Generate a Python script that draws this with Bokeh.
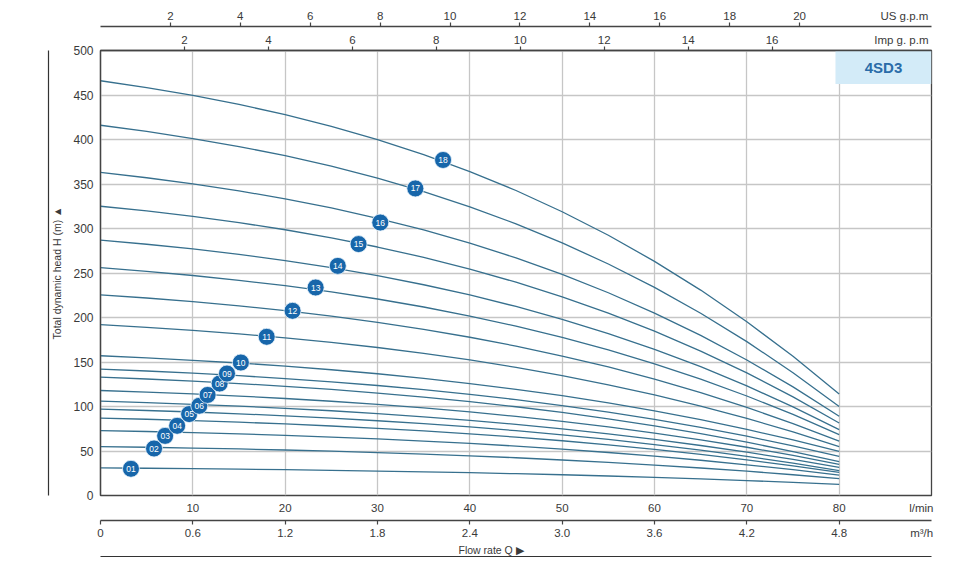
from bokeh.plotting import figure
from bokeh.models import Range1d, LinearAxis, FixedTicker, Title, ColumnDataSource, CustomJSTickFormatter
from bokeh.embed import file_html
from bokeh.resources import INLINE
from bokeh.core.properties import value

# ---------------- data ----------------
flow_lpm = [0, 5, 10, 15, 20, 25, 30, 35, 40, 45, 50, 55, 60, 65, 70, 75, 80]

head_01 = [31, 30.6, 30.1, 29.6, 29.0, 28.3, 27.5, 26.6, 25.6, 24.5, 23.3, 21.9, 20.3, 18.6, 16.8, 14.7, 12.5]
head_02 = [55, 54.2, 53.3, 52.3, 51.1, 49.8, 48.2, 46.5, 44.6, 42.4, 39.9, 37.2, 34.2, 30.9, 27.3, 23.3, 19]
head_03 = [73, 71.9, 70.7, 69.2, 67.6, 65.7, 63.6, 61.2, 58.5, 55.5, 52.1, 48.3, 44.2, 39.6, 34.5, 29.0, 23]
head_04 = [87, 85.7, 84.1, 82.4, 80.4, 78.1, 75.5, 72.6, 69.3, 65.6, 61.5, 56.9, 51.8, 46.2, 40.1, 33.3, 26]
head_05 = [97, 95.5, 93.8, 91.8, 89.5, 87.0, 84.0, 80.7, 77.0, 72.8, 68.2, 63.0, 57.2, 50.9, 43.9, 36.3, 28]
head_06 = [106, 104.4, 102.5, 100.4, 97.9, 95.2, 92.0, 88.4, 84.4, 79.9, 74.9, 69.2, 63.1, 56.2, 48.7, 40.5, 31.5]
head_07 = [118, 116.2, 114.1, 111.7, 109.0, 105.9, 102.4, 98.4, 93.9, 88.9, 83.3, 77.1, 70.2, 62.5, 54.2, 45.0, 35]
head_08 = [133, 130.9, 128.5, 125.8, 122.7, 119.2, 115.1, 110.6, 105.5, 99.7, 93.3, 86.1, 78.2, 69.5, 59.9, 49.4, 38]
head_09 = [142, 139.9, 137.4, 134.6, 131.4, 127.7, 123.6, 118.9, 113.6, 107.7, 101.0, 93.7, 85.5, 76.5, 66.6, 55.8, 44]
head_10 = [157, 154.6, 151.9, 148.9, 145.4, 141.3, 136.8, 131.6, 125.8, 119.3, 112.1, 104.0, 95.0, 85.2, 74.3, 62.4, 49.5]
head_11 = [192, 189.0, 185.6, 181.6, 177.2, 172.1, 166.3, 159.7, 152.3, 144.0, 134.7, 124.4, 113.0, 100.4, 86.6, 71.5, 55]
head_12 = [225.5, 221.9, 217.8, 213.1, 207.7, 201.5, 194.6, 186.7, 177.8, 167.9, 156.7, 144.4, 130.7, 115.6, 99.0, 80.8, 61]
head_13 = [256, 251.9, 247.2, 241.8, 235.7, 228.7, 220.8, 211.8, 201.6, 190.3, 177.6, 163.5, 147.9, 130.7, 111.8, 91.1, 68.5]
head_14 = [287, 282.3, 277.0, 270.9, 263.9, 256.0, 247.0, 236.8, 225.3, 212.4, 197.9, 181.9, 164.2, 144.7, 123.2, 99.6, 74]
head_15 = [325, 319.7, 313.6, 306.6, 298.6, 289.5, 279.2, 267.6, 254.4, 239.7, 223.2, 204.9, 184.6, 162.3, 137.7, 110.8, 81.5]
head_16 = [363, 357.0, 350.1, 342.3, 333.3, 323.1, 311.5, 298.4, 283.6, 267.0, 248.4, 227.8, 205.0, 179.9, 152.2, 122.0, 89]
head_17 = [416, 409.1, 401.1, 392.1, 381.8, 370.0, 356.6, 341.5, 324.4, 305.3, 283.9, 260.1, 233.8, 204.8, 172.9, 138.0, 100]
head_18 = [466, 458.3, 449.5, 439.4, 427.9, 414.7, 399.9, 383.0, 364.0, 342.7, 318.8, 292.4, 263.1, 230.8, 195.2, 156.4, 114]

stage_labels = ["01", "02", "03", "04", "05", "06", "07", "08", "09", "10",
                "11", "12", "13", "14", "15", "16", "17", "18"]
label_q = [3.3, 5.8, 7.0, 8.3, 9.6, 10.7, 11.6, 12.9, 13.7, 15.2,
           18.0, 20.8, 23.3, 25.7, 27.95, 30.3, 34.1, 37.1]
label_h = [30, 52.8, 67, 78.3, 91.5, 100.8, 113, 125.8, 137, 149.4,
           178.3, 207.5, 233.7, 258, 282.5, 306.7, 345, 377]

lpm_ticks = [10, 20, 30, 40, 50, 60, 70, 80]
m3h_ticks = [0, 0.6, 1.2, 1.8, 2.4, 3.0, 3.6, 4.2, 4.8]
us_gpm_ticks = [2, 4, 6, 8, 10, 12, 14, 16, 18, 20]
imp_gpm_ticks = [2, 4, 6, 8, 10, 12, 14, 16]
head_ticks = [0, 50, 100, 150, 200, 250, 300, 350, 400, 450, 500]
model_name = "4SD3"
unit_us, unit_imp, unit_lpm, unit_m3h = "US g.p.m", "Imp g. p.m", "l/min", "m\u00B3/h"
x_title = "Flow rate Q \u25B6"
y_title = "Total dynamic head H (m) \u25B2"

# positions (in each axis' own units) where the unit names are written
unit_pos_us, unit_pos_imp, unit_pos_lpm, unit_pos_m3h = 23.0, 19.08, 88.9, 5.336

# ---------------- figure ----------------
X_MAX = 90
FONT = "Liberation Sans"
TXT = "#3a3a3a"
AX = "#444444"

p = figure(width=980, height=572, x_range=Range1d(0, X_MAX), y_range=Range1d(0, 500),
           output_backend="svg", toolbar_location=None,
           min_border_left=100, min_border_right=49, min_border_top=50, min_border_bottom=77)
p.background_fill_color = "white"
p.border_fill_color = "white"
p.outline_line_color = AX
p.outline_line_width = 1.3

p.extra_x_ranges = {
    "m3h": Range1d(0, X_MAX * 0.06),
    "us": Range1d(0, X_MAX / 3.78541),
    "imp": Range1d(0, X_MAX / 4.54609),
}

def style_axis(ax, size="11.5px"):
    ax.major_label_text_font = FONT
    ax.major_label_text_font_size = size
    ax.major_label_text_color = TXT
    ax.axis_line_color = AX
    ax.axis_line_width = 1.3
    ax.major_tick_in = 0
    ax.minor_tick_in = 0

def pad_axis(ax, pad):
    # an invisible one-space axis label used only as spacing
    ax.axis_label = " "
    ax.axis_label_text_font_size = "1px"
    ax.axis_label_standoff = pad

def unit_formatter(unit, at, fixed=False):
    code = ("if (Math.abs(tick - at) < 1e-6) { return unit; } "
            + ("return tick == 0 ? '0' : tick.toFixed(1);" if fixed else "return String(tick);"))
    return CustomJSTickFormatter(args=dict(unit=unit, at=at), code=code)

def marked_axis(ax, ticks, unit, at, fixed=False):
    # major ticks carry the labels (and the unit name), minor ticks draw the marks
    ax.ticker = FixedTicker(ticks=ticks + [at], minor_ticks=ticks)
    ax.formatter = unit_formatter(unit, at, fixed)
    ax.major_tick_line_color = None
    ax.major_tick_out = 4
    ax.minor_tick_out = 4
    ax.minor_tick_line_color = AX
    ax.minor_tick_line_width = 1.2

# l/min axis (labels only, just below frame)
lpm_axis = p.below[0]
style_axis(lpm_axis)
lpm_axis.ticker = FixedTicker(ticks=lpm_ticks + [unit_pos_lpm])
lpm_axis.formatter = unit_formatter(unit_lpm, unit_pos_lpm)
lpm_axis.axis_line_color = None
lpm_axis.major_tick_line_color = None
lpm_axis.minor_tick_line_color = None
lpm_axis.major_tick_out = 0
lpm_axis.major_label_standoff = 6
pad_axis(lpm_axis, 0)

# m3/h axis
m3h_axis = LinearAxis(x_range_name="m3h")
style_axis(m3h_axis)
marked_axis(m3h_axis, m3h_ticks, unit_m3h, unit_pos_m3h, fixed=True)
m3h_axis.major_label_standoff = 2
p.add_layout(m3h_axis, "below")

# x title and closing bottom line
p.add_layout(Title(text=x_title, align="left", offset=358, text_font=FONT, text_font_size="10.5px",
                   text_font_style="normal", text_color=TXT, standoff=1), "below")
bottom_line = LinearAxis(ticker=FixedTicker(ticks=[]), axis_line_color="#333333", axis_line_width=1.2,
                         major_tick_line_color=None, minor_tick_line_color=None,
                         major_label_text_font_size="0px")
p.add_layout(bottom_line, "below")

# Imp gpm axis (next to frame top)
imp_axis = LinearAxis(x_range_name="imp")
style_axis(imp_axis)
marked_axis(imp_axis, imp_gpm_ticks, unit_imp, unit_pos_imp)
imp_axis.major_label_standoff = 1
pad_axis(imp_axis, 0)
p.add_layout(imp_axis, "above")

# US gpm axis (outer)
us_axis = LinearAxis(x_range_name="us")
style_axis(us_axis)
marked_axis(us_axis, us_gpm_ticks, unit_us, unit_pos_us)
us_axis.major_label_standoff = 1
p.add_layout(us_axis, "above")

# y axis
yax = p.yaxis[0]
yax.ticker = FixedTicker(ticks=head_ticks)
style_axis(yax, "12px")
yax.major_tick_out = 0
yax.minor_tick_line_color = None
yax.major_label_standoff = 7
yax.axis_label = y_title
yax.axis_label_text_font = FONT
yax.axis_label_text_font_size = "10.5px"
yax.axis_label_text_font_style = "normal"
yax.axis_label_text_color = TXT
yax.axis_label_standoff = 7

left_line = LinearAxis(ticker=FixedTicker(ticks=[]), axis_line_color="#333333", axis_line_width=1.2,
                       major_tick_line_color=None, minor_tick_line_color=None,
                       major_label_text_font_size="0px")
p.add_layout(left_line, "left")

# grids
p.xgrid[0].ticker = FixedTicker(ticks=lpm_ticks)
p.ygrid[0].ticker = FixedTicker(ticks=head_ticks)
for g in (p.xgrid[0], p.ygrid[0]):
    g.grid_line_color = "#c6c6c6"
    g.grid_line_width = 1.3

# ---------------- curves ----------------
all_heads = [head_01, head_02, head_03, head_04, head_05, head_06, head_07, head_08, head_09,
             head_10, head_11, head_12, head_13, head_14, head_15, head_16, head_17, head_18]
src = ColumnDataSource(dict(xs=[flow_lpm] * len(all_heads), ys=all_heads))
p.multi_line(xs="xs", ys="ys", source=src, line_color="#37708e", line_width=1.3, line_join="round")

# model badge
p.quad(left=[79.6], right=[X_MAX], top=[500], bottom=[462.4], fill_color="#d3ebf8", line_color=None)
p.text(x=[84.8], y=[480.8], text=[model_name], text_font=value(FONT), text_font_size="15px",
       text_font_style="bold", text_color="#2a6ca8", text_align="center", text_baseline="middle")

# stage markers
lab_src = ColumnDataSource(dict(q=label_q, h=label_h, t=stage_labels))
p.scatter(x="q", y="h", source=lab_src, size=17, fill_color="#1766aa", line_color="#eaf4fb", line_width=0.8)
p.text(x="q", y="h", text="t", source=lab_src, text_font=value(FONT), text_font_size="8.5px",
       text_color="white", text_align="center", text_baseline="middle")

open("out.html", "w").write(file_html(p, INLINE))
